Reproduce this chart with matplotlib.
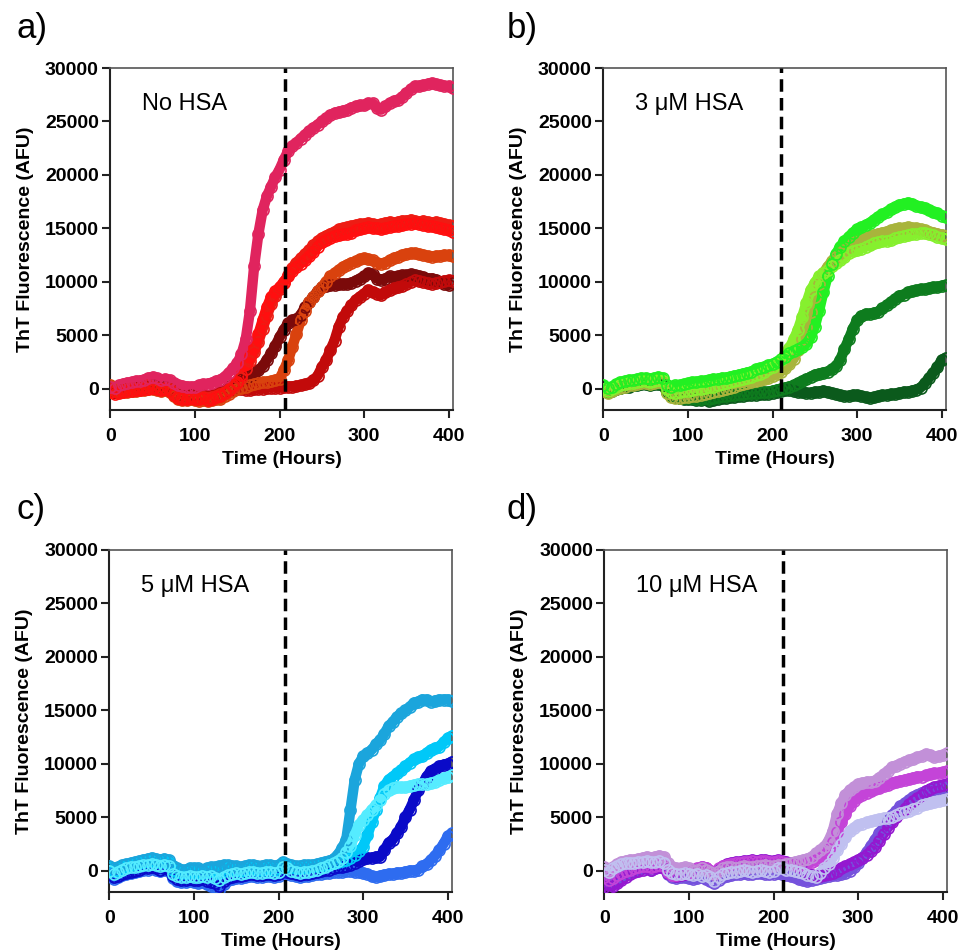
import matplotlib
matplotlib.use("Agg")
import matplotlib.pyplot as plt

plt.rcParams["font.family"] = ["Liberation Sans", "DejaVu Sans"]

# sampling times (hours), one reading every 5 h
TIME_H = list(range(0, 406, 5))

# ---- a) No HSA ----
A_PINK = [200, 100, 300, 450, 550, 600, 700, 750, 850, 1000,
          1100, 950, 850, 900, 800, 500, 350, 250, 200, 150,
          200, 300, 400, 450, 550, 700, 850, 1100, 1500, 1900,
          2400, 3200, 4600, 7300, 11500, 14500, 16700, 18000, 18900, 19800,
          20500, 21400, 22200, 22700, 23000, 23400, 23750, 24100, 24400, 24700,
          25000, 25300, 25600, 25800, 25900, 26000, 26100, 26300, 26400, 26500,
          26500, 26700, 26700, 26300, 26100, 26400, 26700, 26900, 27000, 27300,
          27650, 28000, 28300, 28300, 28400, 28500, 28600, 28500, 28400, 28300,
          28300, 28100]
A_RED = [-300, -500, -400, -300, -200, -200, -100, -100, 0, 0,
         100, 0, -100, 0, -200, -600, -900, -1000, -1000, -900,
         -1000, -1000, -900, -1100, -1000, -800, -700, -400, -100, 300,
         600, 1300, 2300, 3100, 3900, 5100, 6400, 7600, 8600, 9100,
         9500, 10000, 10500, 11000, 11400, 11700, 12000, 12400, 12800, 13300,
         13700, 13900, 14100, 14300, 14400, 14450, 14500, 14600, 14800, 14900,
         15000, 15100, 15000, 15000, 14900, 15000, 15100, 15200, 15200, 15300,
         15400, 15400, 15500, 15400, 15300, 15200, 15200, 15100, 15000, 14900,
         14800, 14700]
A_RED2 = [0, -200, -300, -100, 0, 100, 0, 100, 200, 300,
          200, 100, 0, 100, 0, -400, -700, -800, -900, -800,
          -900, -800, -800, -900, -800, -700, -500, -300, 0, 200,
          500, 1000, 1800, 2600, 3400, 4400, 5600, 6800, 7900, 8700,
          9300, 9900, 10600, 11300, 11800, 12200, 12600, 13000, 13400, 13800,
          14100, 14300, 14500, 14700, 14900, 15000, 15100, 15200, 15300, 15400,
          15400, 15500, 15400, 15300, 15400, 15500, 15600, 15500, 15600, 15700,
          15700, 15800, 15700, 15600, 15700, 15600, 15500, 15600, 15500, 15400,
          15300, 15200]
A_MAROON = [-200, -300, -200, -100, 0, 0, 100, 100, 200, 200,
            300, 200, 100, 200, 0, -400, -600, -700, -700, -600,
            -700, -700, -600, -700, -600, -500, -300, -100, 200, 400,
            700, 900, 1000, 1200, 1400, 1700, 2100, 2700, 3300, 4000,
            4800, 5500, 6100, 6400, 6500, 6900, 7600, 8100, 8600, 9100,
            9500, 9600, 9700, 9700, 9800, 9800, 9800, 9900, 10100, 10300,
            10500, 10800, 10700, 10300, 10200, 10300, 10500, 10400, 10500, 10600,
            10600, 10700, 10600, 10500, 10400, 10300, 10300, 10200, 10000, 9800,
            9700, 9900]
A_ORANGE = [300, 0, -200, -300, -300, -200, -200, -100, -100, 0,
            0, -100, -200, -100, -300, -700, -1000, -1100, -1100, -1000,
            -1100, -1200, -1100, -1200, -1100, -1000, -1000, -700, -500, -200,
            0, 100, 200, 300, 400, 500, 600, 650, 700, 800,
            940, 1700, 2650, 3900, 5150, 6400, 7300, 8100, 8600, 9100,
            9500, 10000, 10500, 10800, 11100, 11400, 11600, 11800, 11900, 12100,
            12200, 12100, 12000, 11800, 11700, 11800, 12000, 12200, 12350, 12500,
            12600, 12650, 12650, 12600, 12500, 12400, 12350, 12400, 12450, 12500,
            12500, 12400]
A_DARKRED = [0, -300, -200, -100, 0, 0, 100, 100, 100, 200,
             200, 100, 0, 100, -100, -400, -600, -700, -700, -700,
             -700, -700, -600, -700, -600, -500, -400, -300, -200, -100,
             0, 0, -100, -100, 0, 0, 0, 100, 100, 100,
             100, 150, 200, 200, 250, 300, 400, 500, 780, 1200,
             2000, 2650, 3600, 4500, 5800, 6700, 7300, 7800, 8300, 8600,
             8900, 9200, 9050, 8900, 8750, 9000, 9200, 9400, 9500, 9650,
             9800, 10000, 10150, 10100, 10000, 9900, 9800, 9900, 10000, 10100,
             10150, 10100]

# ---- b) 3 uM HSA ----
B_DARKEST = [0, -200, -100, 0, 100, 200, 200, 300, 300, 400,
             400, 300, 400, 400, 300, -300, -700, -800, -900, -1000,
             -1000, -1000, -1100, -1100, -1000, -1200, -1100, -1000, -900, -900,
             -800, -800, -700, -700, -600, -600, -600, -500, -500, -500,
             -400, -300, -200, -100, -100, -200, -300, -300, -400, -400,
             -300, -300, -200, -300, -400, -500, -600, -700, -700, -600,
             -600, -700, -800, -900, -800, -700, -600, -600, -500, -500,
             -400, -300, -300, -200, -100, 100, 500, 1000, 1500, 2000,
             2700, 2900]
B_DARKGREEN = [0, -300, -200, 0, 100, 200, 300, 300, 400, 500,
               500, 400, 500, 500, 400, -300, -700, -800, -900, -900,
               -900, -900, -1000, -1000, -900, -1000, -900, -800, -700, -700,
               -600, -600, -500, -500, -400, -400, -400, -300, -300, -300,
               -200, -100, 0, 100, 200, 300, 500, 700, 900, 1100,
               1300, 1400, 1500, 1600, 1800, 2100, 2700, 3700, 4600, 5600,
               6400, 6800, 7000, 7000, 7100, 7200, 7500, 7800, 8100, 8400,
               8700, 8800, 9000, 9100, 9200, 9300, 9300, 9400, 9500, 9500,
               9600, 9700]
B_OLIVE = [-200, -400, -200, 0, 100, 200, 300, 300, 400, 500,
           500, 400, 500, 600, 500, -400, -800, -900, -900, -800,
           -800, -700, -700, -600, -500, -400, -300, -200, -100, 0,
           100, 200, 300, 400, 500, 600, 700, 800, 900, 1000,
           1200, 1400, 1600, 1900, 2300, 2800, 3600, 4600, 5800, 7200,
           8600, 9800, 10800, 11400, 11900, 12300, 12700, 13000, 13300, 13600,
           13800, 14000, 14100, 14300, 14400, 14500, 14600, 14700, 14800, 14900,
           15000, 15000, 15100, 15000, 15000, 14900, 14800, 14700, 14600, 14500,
           14400, 14300]
B_LIME = [0, -200, 0, 200, 300, 400, 500, 500, 600, 700,
          700, 600, 700, 800, 700, 0, -300, -400, -300, -200,
          -200, -100, 0, 0, 100, 200, 200, 300, 400, 500,
          600, 700, 800, 900, 1000, 1100, 1300, 1400, 1600, 1800,
          2000, 2300, 2700, 3200, 3800, 4600, 5500, 6700, 8000, 9200,
          9900, 10500, 10800, 11100, 11500, 11800, 12000, 12300, 12700, 12900,
          13000, 13100, 13300, 13400, 13600, 13700, 13800, 13850, 13900, 14100,
          14200, 14300, 14400, 14500, 14500, 14600, 14600, 14500, 14400, 14200,
          14100, 14000]
B_BRIGHT = [300, 100, 200, 400, 600, 700, 800, 800, 900, 1000,
            1000, 900, 1000, 1100, 1000, 300, 200, 300, 300, 400,
            500, 600, 600, 700, 700, 800, 900, 900, 1000, 1000,
            1100, 1200, 1300, 1400, 1500, 1600, 1800, 1900, 2000, 2200,
            2300, 2500, 2750, 3000, 3300, 3500, 3700, 3900, 4200, 4800,
            5800, 7300, 9000, 10500, 11700, 12600, 13300, 13800, 14200, 14600,
            14900, 15100, 15300, 15500, 15800, 16100, 16300, 16500, 16800, 17000,
            17200, 17300, 17400, 17300, 17100, 17000, 16900, 16700, 16500, 16400,
            16200, 16100]

# ---- c) 5 uM HSA ----
C_ROYAL = [-400, -800, -600, -400, -300, -200, -100, 0, 100, 100,
           200, 100, 0, 100, 0, -700, -1000, -1100, -1100, -1000,
           -1100, -1200, -1100, -1300, -1400, -1500, -1800, -1300, -900, -800,
           -700, -700, -600, -500, -500, -600, -600, -500, -500, -600,
           -500, -200, -300, -400, -500, -600, -500, -500, -400, -300,
           -300, -200, -200, -100, -100, -100, 0, 0, -100, -100,
           -200, -300, -500, -600, -500, -400, -300, -300, -200, -200,
           -100, 0, 0, 100, 400, 600, 1000, 1400, 1900, 2500,
           3200, 3500]
C_NAVY = [-300, -600, -500, -300, -200, -100, 0, 100, 200, 200,
          300, 200, 100, 200, 100, -500, -800, -900, -900, -800,
          -900, -900, -800, -1000, -1100, -1200, -1400, -1000, -700, -600,
          -500, -500, -400, -300, -300, -400, -400, -300, -300, -400,
          -300, 0, -100, -200, -300, -400, -300, -300, -200, -100,
          0, 100, 100, 200, 300, 300, 400, 500, 700, 900,
          1100, 1200, 1200, 1300, 1300, 1900, 2600, 2900, 3500, 4100,
          5000, 5700, 6600, 7500, 8100, 8800, 9300, 9500, 9750, 9900,
          10000, 10200]
C_SKY = [200, 0, 100, 300, 400, 500, 600, 700, 800, 900,
         900, 800, 800, 900, 700, 100, -100, -200, -200, -100,
         -100, -200, -200, -100, 0, -100, -200, 0, 200, 100,
         100, 0, 100, 200, 200, 100, 100, 200, 200, 100,
         200, 600, 400, 300, 200, 200, 300, 300, 400, 400,
         500, 500, 600, 700, 800, 900, 1000, 1200, 1500, 1800,
         2250, 3300, 4500, 5700, 6800, 7900, 8500, 8800, 9100, 9400,
         9750, 10100, 10400, 10600, 10700, 11000, 11300, 11450, 11600, 12000,
         12400, 12600]
C_CERULEAN = [400, 200, 300, 500, 600, 700, 800, 900, 1000, 1100,
              1200, 1100, 1000, 1100, 1000, 400, 200, 100, 100, 200,
              200, 200, 100, 200, 300, 300, 400, 500, 500, 400,
              400, 300, 400, 500, 500, 400, 400, 500, 500, 400,
              500, 800, 600, 500, 400, 400, 500, 500, 500, 600,
              700, 800, 900, 1100, 1500, 2100, 2900, 5700, 8500, 10000,
              10700, 11000, 11300, 11800, 12200, 12800, 13500, 13900, 14400, 14700,
              15000, 15300, 15700, 15800, 16000, 16000, 15800, 15900, 16000, 16000,
              16000, 15900]
C_CYAN = [0, -300, -100, 100, 200, 300, 300, 400, 500, 500,
          600, 500, 400, 500, 400, -300, -500, -600, -600, -500,
          -600, -600, -500, -600, -500, -700, -900, -600, -400, -300,
          -200, -300, -200, -100, -100, -200, -200, -100, -100, -200,
          -100, 300, 200, 0, -100, -200, -100, -100, 0, 100,
          200, 300, 500, 700, 900, 1200, 1700, 2300, 3300, 4300,
          4750, 5200, 5700, 6100, 6600, 7200, 7500, 7700, 7800, 7800,
          7800, 7900, 8000, 8100, 8100, 8100, 8200, 8300, 8500, 8700,
          8800, 8900]

# ---- d) 10 uM HSA ----
D_VIOLET = [-800, -1000, -800, -600, -400, -200, 0, 100, 100, 200,
            200, 100, 200, 300, 200, -300, -600, -700, -600, -600,
            -700, -800, -700, -600, -800, -1000, -1200, -900, -600, -500,
            -400, -300, -300, -200, -300, -300, -200, -200, -300, -300,
            -300, -200, -300, -400, -500, -600, -800, -900, -1000, -900,
            -800, -700, -600, -500, -400, -400, -300, -200, 0, 300,
            700, 1200, 1700, 2300, 2900, 3500, 4100, 4700, 5200, 5600,
            6000, 6300, 6600, 6900, 7100, 7300, 7400, 7500, 7600, 7600,
            7700, 7800]
D_PURPLE = [-1500, -1600, -1400, -1200, -900, -600, -300, -100, 0, 100,
            200, 100, 200, 300, 200, -200, -400, -500, -400, -300,
            -300, -100, 100, 300, 200, 0, -300, 100, 400, 600,
            700, 800, 800, 900, 900, 1000, 900, 1000, 1000, 900,
            900, 1000, 900, 800, 700, 500, 300, 100, -200, -400,
            -500, -500, -400, -300, -200, 0, 200, 400, 600, 800,
            1000, 1200, 1500, 1800, 2200, 2800, 3400, 4000, 4500, 5000,
            5400, 5800, 6200, 6500, 6800, 7100, 7400, 7600, 7800, 7900,
            8000, 8100]
D_MAGENTA = [-600, -900, -700, -400, -200, 0, 100, 200, 300, 400,
             400, 300, 400, 500, 400, -100, -400, -400, -300, -200,
             -200, 0, 200, 300, 200, 0, -200, 200, 400, 500,
             600, 700, 700, 800, 800, 900, 800, 900, 900, 800,
             800, 900, 800, 700, 600, 500, 500, 600, 700, 800,
             1000, 1200, 1500, 2000, 2700, 3600, 4500, 5300, 6000, 6500,
             6900, 7100, 7300, 7400, 7600, 7700, 7900, 8000, 8200, 8300,
             8400, 8500, 8600, 8700, 8800, 8800, 8900, 9000, 9100, 9100,
             9200, 9300]
D_ORCHID = [300, 100, 300, 600, 800, 900, 1000, 1000, 1100, 1200,
            1300, 1200, 1300, 1400, 1300, 700, 300, 200, 200, 300,
            200, 0, 100, 200, 100, -100, -300, 0, 200, 300,
            300, 200, 300, 400, 300, 300, 400, 400, 500, 400,
            400, 500, 500, 600, 700, 800, 900, 1000, 1100, 1300,
            1600, 1900, 2200, 2800, 3700, 5300, 6300, 7100, 7500, 7800,
            8100, 8200, 8300, 8300, 8400, 8700, 9000, 9300, 9700, 9800,
            10000, 10200, 10300, 10400, 10600, 10700, 10900, 10800, 10600, 10700,
            10800, 11000]
D_LAVENDER = [100, -100, 200, 400, 600, 700, 700, 700, 800, 800,
              900, 800, 800, 900, 700, 100, -200, -300, -300, -200,
              -300, -400, -300, -500, -400, -600, -1000, -600, -300, -200,
              -100, -100, 0, 100, 0, -100, 0, 100, 0, -100,
              0, 200, 200, 100, 100, 0, -100, -200, -400, -500,
              -600, -200, 200, 600, 1200, 1900, 2500, 3100, 3700, 4000,
              4300, 4400, 4500, 4600, 4700, 4800, 4900, 4950, 5000, 5200,
              5400, 5500, 5600, 5800, 5900, 6100, 6250, 6350, 6450, 6500,
              6560, 6700]

PANELS = [
    {
        "letter": "a)", "label": "No HSA", "dash": 207,
        "rect": [0.1148, 0.5684, 0.358, 0.36], "letter_xy": (17, 38),
        "series": [(A_MAROON, "#7b0a0a"), (A_DARKRED, "#c20a0a"),
                   (A_ORANGE, "#d9420e"), (A_RED2, "#ee1c14"),
                   (A_RED, "#ff0f0f"), (A_PINK, "#e0245e")],
    },
    {
        "letter": "b)", "label": "3 \u03bcM HSA", "dash": 210,
        "rect": [0.6294, 0.5684, 0.358, 0.36], "letter_xy": (507, 38),
        "series": [(B_DARKEST, "#0b5a1c"), (B_DARKGREEN, "#0e7c1e"),
                   (B_OLIVE, "#a8b43c"), (B_LIME, "#86f02e"),
                   (B_BRIGHT, "#22f022")],
    },
    {
        "letter": "c)", "label": "5 \u03bcM HSA", "dash": 208,
        "rect": [0.1138, 0.0611, 0.358, 0.36], "letter_xy": (17, 519),
        "series": [(C_ROYAL, "#2e6cf0"), (C_NAVY, "#0a0ac8"),
                   (C_SKY, "#00c8f8"), (C_CERULEAN, "#1ba5dc"),
                   (C_CYAN, "#55ecff")],
    },
    {
        "letter": "d)", "label": "10 \u03bcM HSA", "dash": 211,
        "rect": [0.6305, 0.0611, 0.358, 0.36], "letter_xy": (506, 519),
        "series": [(D_VIOLET, "#7552dc"), (D_PURPLE, "#9418d0"),
                   (D_MAGENTA, "#c444d8"), (D_ORCHID, "#c290d8"),
                   (D_LAVENDER, "#c0c0f0")],
    },
]

W, H = 958, 950
fig = plt.figure(figsize=(W / 100, H / 100), dpi=100)

for panel in PANELS:
    ax = fig.add_axes(panel["rect"])
    for values, color in panel["series"]:
        ax.plot(TIME_H, values, color=color, linewidth=7.5,
                solid_capstyle="round", solid_joinstyle="round", zorder=2)
        ax.plot(TIME_H, values, linestyle="none", marker="o", markersize=8,
                markerfacecolor="none", markeredgecolor=color,
                markeredgewidth=1.2, zorder=3)
    ax.axvline(panel["dash"], color="black", linewidth=2.5,
               dashes=(3.6, 1.8), zorder=4)

    ax.set_xlim(-0.5, 405)
    ax.set_ylim(-2000, 30000)
    ax.set_xticks([0, 100, 200, 300, 400])
    ax.set_yticks([0, 5000, 10000, 15000, 20000, 25000, 30000])
    ax.tick_params(direction="out", length=6, width=1.5, labelsize=14,
                   pad=2, colors="#222222")
    ax.tick_params(axis="x", pad=7)
    for lab in ax.get_xticklabels() + ax.get_yticklabels():
        lab.set_fontweight("bold")
        lab.set_color("black")
    for side in ("left", "bottom"):
        ax.spines[side].set_linewidth(1.5)
        ax.spines[side].set_color("#222222")
    for side in ("top", "right"):
        ax.spines[side].set_linewidth(1.2)
        ax.spines[side].set_color("#555555")

    ax.set_xlabel("Time (Hours)", fontsize=14, fontweight="bold", labelpad=4)
    ax.set_ylabel("ThT Fluorescence (AFU)", fontsize=14, fontweight="bold",
                  labelpad=8)
    ax.text(0.093, 0.877, panel["label"], transform=ax.transAxes,
            fontsize=17, va="baseline", ha="left")

    lx, ly = panel["letter_xy"]
    fig.text(lx / W, 1 - ly / H, panel["letter"], fontsize=25,
             va="baseline", ha="left")

fig.savefig("out.png", dpi=100)
